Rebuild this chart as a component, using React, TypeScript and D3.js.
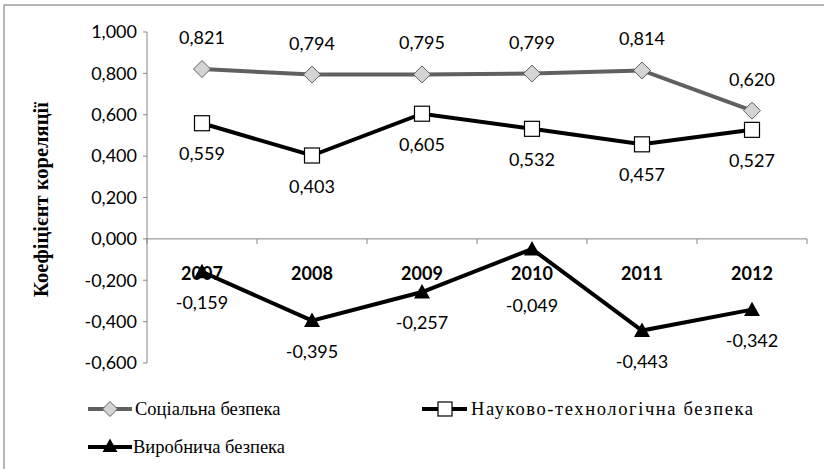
import React from "react";
import * as d3 from "d3";

const years = ["2007", "2008", "2009", "2010", "2011", "2012"];
const social = [0.821, 0.794, 0.795, 0.799, 0.814, 0.62];
const science = [0.559, 0.403, 0.605, 0.532, 0.457, 0.527];
const production = [-0.159, -0.395, -0.257, -0.049, -0.443, -0.342];
const yTicks = [1.0, 0.8, 0.6, 0.4, 0.2, 0, -0.2, -0.4, -0.6];
const seriesNames = ["Соціальна безпека", "Науково-технологічна безпека", "Виробнича безпека"];
const yTitle = "Коефіцієнт кореляції";

const W = 824, H = 469;
const left = 147, right = 807, top = 32, bottom = 363;
const fmt = (v: number) => d3.format(".3f")(v).replace(".", ",").replace("−", "-");
const NUM = "Lato";
const SERIF = "Liberation Serif";

export default function App() {
  const x = d3.scaleBand<string>().domain(years).range([left, right]).padding(0);
  const y = d3.scaleLinear().domain([-0.6, 1.0]).range([bottom, top]);
  const cx = (d: string) => (x(d) as number) + x.bandwidth() / 2;
  const line = d3.line<number>().x((_, i) => cx(years[i])).y((v) => y(v));
  const diamond = (px: number, py: number, r: number) =>
    `M${px},${py - r}L${px + r},${py}L${px},${py + r}L${px - r},${py}Z`;
  const tri = (px: number, py: number, r: number) =>
    `M${px},${py - r}L${px + r},${py + r * 0.8}L${px - r},${py + r * 0.8}Z`;
  const boundaries = d3.range(years.length + 1).map((i) => left + i * x.bandwidth());
  const yearBaseline = y(0) + 41;
  const prodLabelY = (v: number) => {
    const base = y(v) + 37;
    return base < yearBaseline + 24 ? yearBaseline + 32 : base;
  };

  return (
    <svg width={W} height={H} style={{ position: "absolute", left: 0, top: 0, background: "#fff" }}>
      <rect x={4} y={5} width={W + 10} height={H + 10} fill="#fff" stroke="#a0a0a0" strokeWidth={1.5} />
      <line x1={left} x2={left} y1={top} y2={bottom} stroke="#868686" strokeWidth={1} />
      {yTicks.map((t) => (
        <g key={t}>
          <line x1={left - 4} x2={left} y1={y(t)} y2={y(t)} stroke="#868686" />
          <text x={left - 10} y={y(t)} dy="0.35em" textAnchor="end" fontFamily={NUM} fontSize={18} fill="#000">
            {fmt(t)}
          </text>
        </g>
      ))}
      <line x1={left} x2={right} y1={y(0)} y2={y(0)} stroke="#868686" strokeWidth={1} />
      {boundaries.map((b, i) => (
        <line key={i} x1={b} x2={b} y1={y(0)} y2={y(0) + 5} stroke="#868686" />
      ))}
      {years.map((yr) => (
        <text key={yr} x={cx(yr)} y={yearBaseline} textAnchor="middle" fontFamily={NUM} fontWeight="bold" fontSize={18} fill="#000">
          {yr}
        </text>
      ))}
      <text
        transform={`translate(48,${(top + bottom) / 2 + 2}) rotate(-90)`}
        textAnchor="middle"
        fontFamily={SERIF}
        fontWeight="bold"
        fontSize={20.5}
        fill="#000"
      >
        {yTitle}
      </text>
      <path d={line(social) as string} fill="none" stroke="#606060" strokeWidth={4} />
      {social.map((v, i) => (
        <g key={i}>
          <path d={diamond(cx(years[i]), y(v), 8.5)} fill="#d4d4d4" stroke="#606060" strokeWidth={1} />
          <text x={cx(years[i])} y={y(v) - 25} textAnchor="middle" fontFamily={NUM} fontSize={18} fill="#000">
            {fmt(v)}
          </text>
        </g>
      ))}
      <path d={line(science) as string} fill="none" stroke="#000" strokeWidth={4} />
      {science.map((v, i) => (
        <g key={i}>
          <rect x={cx(years[i]) - 7.5} y={y(v) - 7.5} width={15} height={15} fill="#fff" stroke="#000" strokeWidth={1.2} />
          <text x={cx(years[i])} y={y(v) + 37} textAnchor="middle" fontFamily={NUM} fontSize={18} fill="#000">
            {fmt(v)}
          </text>
        </g>
      ))}
      <path d={line(production) as string} fill="none" stroke="#000" strokeWidth={4} />
      {production.map((v, i) => (
        <g key={i}>
          <path d={tri(cx(years[i]), y(v), 8)} fill="#000" />
          <text x={cx(years[i])} y={prodLabelY(v)} textAnchor="middle" fontFamily={NUM} fontSize={18} fill="#000">
            {fmt(v)}
          </text>
        </g>
      ))}
      <g>
        <line x1={88} x2={132} y1={409} y2={409} stroke="#606060" strokeWidth={4} />
        <path d={diamond(110, 409, 7.5)} fill="#d4d4d4" stroke="#606060" />
        <text x={135} y={409} dy="0.35em" fontFamily={SERIF} fontSize={18.5} fill="#000">{seriesNames[0]}</text>

        <line x1={422} x2={467} y1={409} y2={409} stroke="#000" strokeWidth={4} />
        <rect x={438} y={402} width={14} height={14} fill="#fff" stroke="#000" strokeWidth={1.2} />
        <text x={471} y={409} dy="0.35em" fontFamily={SERIF} fontSize={18.5} textLength={282} lengthAdjust="spacing" fill="#000">{seriesNames[1]}</text>

        <line x1={88} x2={132} y1={447} y2={447} stroke="#000" strokeWidth={4} />
        <path d={tri(110, 446, 7.5)} fill="#000" />
        <text x={133} y={447} dy="0.35em" fontFamily={SERIF} fontSize={18.5} fill="#000">{seriesNames[2]}</text>
      </g>
    </svg>
  );
}
